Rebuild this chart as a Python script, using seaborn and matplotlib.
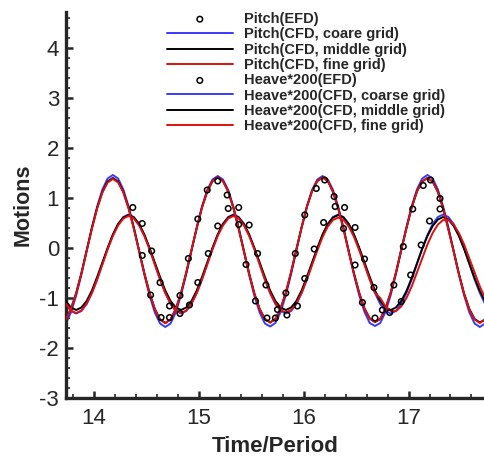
import numpy as np
import matplotlib
matplotlib.use("Agg")
import matplotlib.pyplot as plt
import seaborn as sns
from matplotlib.ticker import MultipleLocator

# time samples (Time/Period)
t = [13.73, 13.78, 13.83, 13.88, 13.93, 13.98, 14.03, 14.08, 14.13, 14.18,
     14.23, 14.28, 14.33, 14.38, 14.43, 14.48, 14.53, 14.58, 14.63, 14.68,
     14.73, 14.78, 14.83, 14.88, 14.93, 14.98, 15.03, 15.08, 15.13, 15.18,
     15.23, 15.28, 15.33, 15.38, 15.43, 15.48, 15.53, 15.58, 15.63, 15.68,
     15.73, 15.78, 15.83, 15.88, 15.93, 15.98, 16.03, 16.08, 16.13, 16.18,
     16.23, 16.28, 16.33, 16.38, 16.43, 16.48, 16.53, 16.58, 16.63, 16.68,
     16.73, 16.78, 16.83, 16.88, 16.93, 16.98, 17.03, 17.08, 17.13, 17.18,
     17.23, 17.28, 17.33, 17.38, 17.43, 17.48, 17.53, 17.58, 17.63, 17.68,
     17.73]

pitch_coarse = [-1.51, -1.29, -0.95, -0.53, -0.06, 0.41, 0.83, 1.17, 1.39, 1.46,
                1.39, 1.17, 0.83, 0.41, -0.06, -0.53, -0.95, -1.29, -1.51, -1.58,
                -1.51, -1.29, -0.94, -0.52, -0.05, 0.41, 0.83, 1.16, 1.37, 1.44,
                1.37, 1.16, 0.82, 0.40, -0.07, -0.54, -0.96, -1.29, -1.51, -1.57,
                -1.50, -1.28, -0.94, -0.52, -0.05, 0.41, 0.83, 1.16, 1.37, 1.44,
                1.37, 1.16, 0.82, 0.40, -0.07, -0.54, -0.95, -1.28, -1.50, -1.56,
                -1.50, -1.28, -0.94, -0.52, -0.05, 0.41, 0.83, 1.17, 1.39, 1.46,
                1.39, 1.17, 0.83, 0.41, -0.06, -0.53, -0.95, -1.29, -1.51, -1.58,
                -1.51]
pitch_middle = [-1.43, -1.22, -0.90, -0.50, -0.05, 0.40, 0.80, 1.12, 1.33, 1.40,
                1.33, 1.12, 0.80, 0.40, -0.05, -0.50, -0.90, -1.22, -1.43, -1.50,
                -1.43, -1.22, -0.90, -0.49, -0.04, 0.40, 0.81, 1.13, 1.34, 1.41,
                1.34, 1.13, 0.80, 0.39, -0.06, -0.51, -0.91, -1.22, -1.42, -1.49,
                -1.42, -1.21, -0.89, -0.48, -0.03, 0.41, 0.82, 1.14, 1.34, 1.41,
                1.34, 1.12, 0.79, 0.38, -0.07, -0.51, -0.90, -1.21, -1.41, -1.48,
                -1.42, -1.21, -0.89, -0.49, -0.04, 0.40, 0.81, 1.13, 1.33, 1.40,
                1.33, 1.12, 0.79, 0.38, -0.06, -0.51, -0.91, -1.22, -1.42, -1.49,
                -1.43]
pitch_fine = [-1.43, -1.22, -0.91, -0.51, -0.06, 0.38, 0.79, 1.11, 1.31, 1.38,
              1.31, 1.11, 0.79, 0.38, -0.06, -0.51, -0.91, -1.22, -1.43, -1.50,
              -1.43, -1.22, -0.90, -0.49, -0.04, 0.40, 0.81, 1.13, 1.34, 1.41,
              1.34, 1.13, 0.80, 0.38, -0.07, -0.52, -0.92, -1.22, -1.42, -1.49,
              -1.42, -1.21, -0.89, -0.48, -0.03, 0.41, 0.82, 1.14, 1.34, 1.41,
              1.34, 1.12, 0.79, 0.37, -0.08, -0.52, -0.91, -1.21, -1.41, -1.48,
              -1.42, -1.21, -0.89, -0.49, -0.04, 0.40, 0.81, 1.13, 1.33, 1.40,
              1.33, 1.12, 0.79, 0.37, -0.07, -0.52, -0.92, -1.23, -1.43, -1.50,
              -1.43]

heave_coarse = [-1.12, -1.26, -1.31, -1.26, -1.12, -0.90, -0.63, -0.32, -0.01, 0.26,
                0.48, 0.62, 0.67, 0.62, 0.48, 0.26, -0.01, -0.32, -0.63, -0.90,
                -1.12, -1.26, -1.31, -1.26, -1.12, -0.90, -0.63, -0.32, -0.01, 0.26,
                0.48, 0.62, 0.67, 0.62, 0.48, 0.26, -0.01, -0.32, -0.63, -0.90,
                -1.12, -1.26, -1.31, -1.26, -1.12, -0.90, -0.63, -0.32, -0.01, 0.26,
                0.48, 0.62, 0.67, 0.62, 0.48, 0.26, -0.01, -0.32, -0.63, -0.90,
                -1.12, -1.26, -1.31, -1.26, -1.12, -0.90, -0.63, -0.32, -0.01, 0.26,
                0.48, 0.62, 0.67, 0.62, 0.48, 0.26, -0.01, -0.32, -0.63, -0.90,
                -1.12]
heave_middle = [-1.06, -1.19, -1.24, -1.19, -1.06, -0.85, -0.58, -0.29, 0.00, 0.27,
                0.48, 0.61, 0.66, 0.61, 0.48, 0.27, 0.00, -0.29, -0.58, -0.85,
                -1.06, -1.19, -1.24, -1.19, -1.06, -0.85, -0.58, -0.29, 0.00, 0.27,
                0.48, 0.61, 0.66, 0.61, 0.48, 0.27, 0.00, -0.29, -0.58, -0.85,
                -1.06, -1.19, -1.24, -1.19, -1.06, -0.85, -0.58, -0.29, 0.00, 0.27,
                0.48, 0.61, 0.66, 0.61, 0.48, 0.27, 0.00, -0.29, -0.58, -0.85,
                -1.06, -1.19, -1.24, -1.19, -1.06, -0.86, -0.60, -0.31, -0.02, 0.24,
                0.44, 0.57, 0.62, 0.57, 0.44, 0.24, -0.02, -0.31, -0.60, -0.86,
                -1.06]
heave_fine = [-1.11, -1.25, -1.30, -1.25, -1.11, -0.90, -0.63, -0.33, -0.03, 0.24,
              0.45, 0.59, 0.64, 0.59, 0.45, 0.24, -0.03, -0.33, -0.63, -0.90,
              -1.11, -1.25, -1.30, -1.25, -1.11, -0.90, -0.63, -0.33, -0.03, 0.24,
              0.45, 0.59, 0.64, 0.59, 0.45, 0.24, -0.03, -0.33, -0.63, -0.90,
              -1.11, -1.24, -1.29, -1.24, -1.11, -0.90, -0.63, -0.34, -0.05, 0.22,
              0.43, 0.56, 0.61, 0.56, 0.43, 0.22, -0.05, -0.34, -0.63, -0.90,
              -1.00, -1.17, -1.26, -1.26, -1.17, -1.00, -0.77, -0.49, -0.21, 0.07,
              0.30, 0.47, 0.56, 0.56, 0.47, 0.30, 0.07, -0.21, -0.49, -0.77,
              -1.00]

# experimental points
pitch_efd_t = [14.46, 14.54, 14.64, 14.72, 14.82, 14.90, 14.99, 15.08, 15.18, 15.27,
               15.38, 15.45, 15.54, 15.65, 15.73, 15.83, 15.92, 16.01, 16.12, 16.20,
               16.29, 16.38, 16.49, 16.56, 16.68, 16.86, 16.95, 17.04, 17.14, 17.21,
               17.30]
pitch_efd = [-0.15, -0.94, -1.39, -1.39, -0.95, -0.21, 0.58, 1.16, 1.34, 1.06,
             0.47, -0.33, -1.06, -1.40, -1.40, -0.90, -0.11, 0.66, 1.19, 1.36,
             1.03, 0.39, -0.34, -1.09, -1.40, -0.74, 0.03, 0.78, 1.25, 1.36,
             0.99]
heave_efd_t = [14.37, 14.46, 14.55, 14.63, 14.72, 14.82, 14.91, 14.99, 15.09, 15.18,
               15.28, 15.38, 15.48, 15.56, 15.64, 15.75, 15.84, 15.94, 16.01, 16.10,
               16.19, 16.30, 16.39, 16.49, 16.58, 16.67, 16.75, 16.82, 16.93, 17.02,
               17.12, 17.20, 17.30]
heave_efd = [0.81, 0.49, -0.06, -0.69, -1.16, -1.31, -1.14, -0.69, -0.11, 0.44,
             0.79, 0.81, 0.46, -0.11, -0.74, -1.23, -1.34, -1.16, -0.61, -0.02,
             0.51, 0.83, 0.81, 0.41, -0.22, -0.79, -1.24, -1.29, -1.07, -0.54,
             0.06, 0.54, 0.78]

sns.set_style("ticks")
plt.rcParams['font.family'] = ['Liberation Sans', 'DejaVu Sans']
plt.rcParams['axes.unicode_minus'] = False

fig = plt.figure(figsize=(4.84, 4.59), dpi=100)
ax = fig.add_axes([66 / 484, 1 - 398 / 459, 1 - 66 / 484 - 0.001, (398 - 12) / 459])

blue = "#3a3aff"
red = "#e01010"
lw = 1.4
efd_kw = dict(marker='o', s=16, facecolor='none', edgecolor='black', linewidth=1.1)

sns.scatterplot(x=pitch_efd_t, y=pitch_efd, ax=ax, label="Pitch(EFD)", zorder=5, **efd_kw)
sns.lineplot(x=t, y=pitch_coarse, ax=ax, color=blue, lw=lw, label="Pitch(CFD, coare grid)", zorder=2)
sns.lineplot(x=t, y=pitch_middle, ax=ax, color="black", lw=lw, label="Pitch(CFD, middle grid)", zorder=3)
sns.lineplot(x=t, y=pitch_fine, ax=ax, color=red, lw=lw, label="Pitch(CFD, fine grid)", zorder=4)
sns.scatterplot(x=heave_efd_t, y=heave_efd, ax=ax, label="Heave*200(EFD)", zorder=5, **efd_kw)
sns.lineplot(x=t, y=heave_coarse, ax=ax, color=blue, lw=lw, label="Heave*200(CFD, coarse grid)", zorder=2)
sns.lineplot(x=t, y=heave_middle, ax=ax, color="black", lw=lw, label="Heave*200(CFD, middle grid)", zorder=3)
sns.lineplot(x=t, y=heave_fine, ax=ax, color=red, lw=lw, label="Heave*200(CFD, fine grid)", zorder=4)

ax.set_xlim(13.733, 17.715)
ax.set_ylim(-3, 4.72)
ax.xaxis.set_major_locator(MultipleLocator(1))
ax.xaxis.set_minor_locator(MultipleLocator(0.2))
ax.yaxis.set_major_locator(MultipleLocator(1))
ax.yaxis.set_minor_locator(MultipleLocator(0.2))

for side in ["top", "right"]:
    ax.spines[side].set_visible(False)
for side in ["left", "bottom"]:
    ax.spines[side].set_linewidth(2.4)
ax.tick_params(which='major', direction='in', length=5, width=1.8, labelsize=16, pad=7)
ax.tick_params(which='minor', direction='in', length=3, width=1.2)
ax.tick_params(axis='y', pad=5)

ax.set_xlabel("Time/Period", fontsize=16, fontweight='bold', labelpad=5)
ax.set_ylabel("Motions", fontsize=15.5, fontweight='bold', labelpad=4)

leg = ax.legend(loc='upper left', bbox_to_anchor=(167 / 484, 1 - 12 / 459),
                bbox_transform=fig.transFigure, frameon=False,
                prop={'weight': 'bold', 'size': 10.5}, handlelength=4.5,
                handletextpad=0.8, labelspacing=0.09, borderpad=0, borderaxespad=0)

fig.savefig("out.png", dpi=100)
